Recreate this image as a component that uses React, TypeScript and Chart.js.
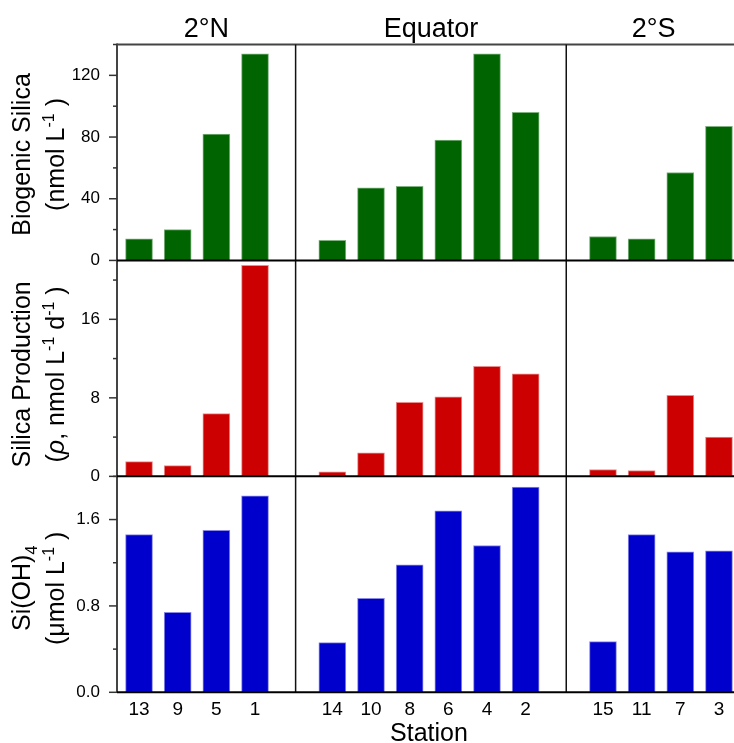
import { useEffect, useRef } from 'react';
import { Chart, registerables } from 'chart.js';

Chart.register(...registerables);

// ---------- data ----------
const columnTitles = ['2°N', 'Equator', '2°S'];

const stations2N = ['13', '9', '5', '1'];
const stationsEq = ['14', '10', '8', '6', '4', '2'];
const stations2S = ['15', '11', '7', '3'];

const biogenicSilica2N = [14, 20, 82, 134];
const biogenicSilicaEq = [13, 47, 48, 78, 134, 96];
const biogenicSilica2S = [15.5, 14, 57, 87];

const silicaProduction2N = [1.5, 1.1, 6.4, 21.5];
const silicaProductionEq = [0.45, 2.4, 7.55, 8.1, 11.2, 10.45];
const silicaProduction2S = [0.7, 0.6, 8.25, 4.0];

const silicate2N = [1.46, 0.74, 1.5, 1.82];
const silicateEq = [0.46, 0.87, 1.18, 1.68, 1.36, 1.9];
const silicate2S = [0.47, 1.46, 1.3, 1.31];

const bsiTickValues = [0, 20, 40, 60, 80, 100, 120, 140];
const bsiTickLabels = [0, 40, 80, 120];
const prodTickValues = [0, 4, 8, 12, 16, 20];
const prodTickLabels = [0, 8, 16];
const siTickValues = [0, 0.4, 0.8, 1.2, 1.6, 2.0];
const siTickLabels = [0, 0.8, 1.6];

// ---------- layout / style ----------
const FONT = '"Liberation Sans", Arial, Helvetica, sans-serif';
const GREEN = '#006400';
const RED = '#cc0000';
const BLUE = '#0000cc';
const X_MIN = -0.57;
const X_MAX = 15.57;
const DIVIDER_AFTER_LAST = 1.05; // slot units after the last bar of a column
const CANVAS_W = 750;
const CANVAS_H = 743;

const stationGroups = [stations2N, stationsEq, stations2S];

// slot index of each station: groups separated by one empty slot
const groupIndices: number[][] = [];
{
  let pos = 0;
  stationGroups.forEach((g) => {
    groupIndices.push(g.map((_, i) => pos + i));
    pos += g.length + 1;
  });
}
const stationLabelAt: Record<number, string> = {};
stationGroups.forEach((g, gi) => g.forEach((s, i) => (stationLabelAt[groupIndices[gi][i]] = s)));
const allIndices = groupIndices.flat();

const toPoints = (groups: number[][]) =>
  groups.flatMap((vals, gi) => vals.map((v, i) => ({ x: groupIndices[gi][i], y: v })));

const dividers = groupIndices.slice(0, -1).map((g) => g[g.length - 1] + DIVIDER_AFTER_LAST);

type Seg = { t: string; sup?: boolean; sub?: boolean; italic?: boolean };

const rowTitles: Seg[][][] = [
  [[{ t: 'Biogenic Silica' }], [{ t: '(nmol L' }, { t: '-1', sup: true }, { t: ' )' }]],
  [
    [{ t: 'Silica Production' }],
    [
      { t: '(' },
      { t: 'ρ', italic: true },
      { t: ', nmol L' },
      { t: '-1', sup: true },
      { t: ' d' },
      { t: '-1', sup: true },
      { t: ' )' },
    ],
  ],
  [[{ t: 'Si(OH)' }, { t: '4', sub: true }], [{ t: '(μmol L' }, { t: '-1', sup: true }, { t: ' )' }]],
];
const rowTitleShift = [2, 6, 4];

function drawRich(ctx: CanvasRenderingContext2D, segs: Seg[], size: number, cx: number, cy: number) {
  const small = Math.round(size * 0.64);
  const fontFor = (s: Seg) => `${s.italic ? 'italic ' : ''}${s.sup || s.sub ? small : size}px ${FONT}`;
  let total = 0;
  const widths = segs.map((s) => {
    ctx.font = fontFor(s);
    const w = ctx.measureText(s.t).width;
    total += w;
    return w;
  });
  let xp = cx - total / 2;
  ctx.textAlign = 'left';
  ctx.textBaseline = 'alphabetic';
  segs.forEach((s, i) => {
    ctx.font = fontFor(s);
    const dy = s.sup ? -size * 0.42 : s.sub ? size * 0.28 : 0;
    ctx.fillText(s.t, xp, cy + dy);
    xp += widths[i];
  });
}

const overlay = {
  id: 'overlay',
  afterDraw(chart: any) {
    const { ctx, chartArea: a, scales } = chart;
    const xs = scales.x;
    const rows = [scales.yTop, scales.yMid, scales.yBot];
    const majors = [bsiTickLabels, prodTickLabels, siTickLabels];
    const line = (x1: number, y1: number, x2: number, y2: number, c: string, w: number) => {
      ctx.beginPath();
      ctx.strokeStyle = c;
      ctx.lineWidth = w;
      ctx.moveTo(x1, y1);
      ctx.lineTo(x2, y2);
      ctx.stroke();
    };
    ctx.save();
    // frame
    line(a.left, a.top, a.right + 2, a.top, '#444', 2);
    line(a.left, a.top - 1, a.left, a.bottom, '#444', 2);
    dividers.forEach((v) => {
      const px = xs.getPixelForValue(v);
      line(px, a.top, px, a.bottom, '#111', 1.5);
    });
    rows.forEach((s: any) => {
      const y = s.getPixelForValue(0);
      line(a.left, y, a.right + 2, y, '#000', 2);
    });
    // y tick marks
    rows.forEach((s: any, ri: number) => {
      s.ticks.forEach((t: any) => {
        const y = s.getPixelForValue(t.value);
        const major = majors[ri].some((m) => Math.abs(m - t.value) < 1e-9);
        line(a.left - (major ? 8 : 4), y, a.left, y, '#333', 1.5);
      });
    });
    ctx.fillStyle = '#000';
    // column titles
    const bounds = [xs.getPixelForValue(X_MIN), ...dividers.map((d) => xs.getPixelForValue(d)), xs.getPixelForValue(X_MAX)];
    ctx.font = `27px ${FONT}`;
    ctx.textAlign = 'center';
    ctx.textBaseline = 'alphabetic';
    columnTitles.forEach((t, i) => {
      ctx.fillText(t, (bounds[i] + bounds[i + 1]) / 2, 37);
    });
    // x title
    ctx.font = `25px ${FONT}`;
    ctx.fillText('Station', (a.left + a.right) / 2, 741);
    // row titles
    rows.forEach((s: any, ri: number) => {
      const cy = (s.getPixelForValue(s.min) + s.getPixelForValue(s.max)) / 2 + rowTitleShift[ri];
      const baselines = [30, 64];
      rowTitles[ri].forEach((segs, li) => {
        ctx.save();
        ctx.translate(baselines[li], cy);
        ctx.rotate(-Math.PI / 2);
        drawRich(ctx, segs, 25, 0, 0);
        ctx.restore();
      });
    });
    ctx.restore();
  },
};

const yScale = (min: number, max: number, tickValues: number[], labels: number[], digits: number) => ({
  type: 'linear' as const,
  position: 'left' as const,
  stack: 'rows',
  stackWeight: 1,
  min,
  max,
  bounds: 'data' as const,
  offset: false,
  grid: { display: false, drawTicks: false },
  border: { display: false },
  afterBuildTicks: (s: any) => {
    s.ticks = tickValues.map((v) => ({ value: v }));
  },
  afterFit: (s: any) => {
    s.width = 117;
  },
  ticks: {
    autoSkip: false,
    padding: 17,
    color: '#000',
    font: { family: FONT, size: 17 },
    callback: (v: any) => (labels.some((m) => Math.abs(m - v) < 1e-9) ? Number(v).toFixed(digits) : ''),
  },
});

export default function App() {
  const ref = useRef<HTMLCanvasElement>(null);
  useEffect(() => {
    if (!ref.current) return;
    const barStyle = { barThickness: 27, grouped: false, borderWidth: 1 };
    const chart = new Chart(ref.current, {
      type: 'bar',
      data: {
        datasets: [
          {
            label: 'Si(OH)4',
            data: toPoints([silicate2N, silicateEq, silicate2S]),
            yAxisID: 'yBot',
            backgroundColor: BLUE,
            borderColor: '#8a8ae6',
            ...barStyle,
          },
          {
            label: 'Silica Production',
            data: toPoints([silicaProduction2N, silicaProductionEq, silicaProduction2S]),
            yAxisID: 'yMid',
            backgroundColor: RED,
            borderColor: '#ea8c8c',
            ...barStyle,
          },
          {
            label: 'Biogenic Silica',
            data: toPoints([biogenicSilica2N, biogenicSilicaEq, biogenicSilica2S]),
            yAxisID: 'yTop',
            backgroundColor: GREEN,
            borderColor: '#7fb27f',
            ...barStyle,
          },
        ] as any,
      },
      options: {
        responsive: false,
        animation: false,
        layout: { padding: { left: 0, top: 44.5, right: CANVAS_W - 741, bottom: 0 } },
        plugins: { legend: { display: false }, tooltip: { enabled: false } },
        scales: {
          x: {
            type: 'linear',
            min: X_MIN,
            max: X_MAX,
            bounds: 'data',
            offset: false,
            grid: { display: false, drawTicks: false, offset: false },
            border: { display: false },
            afterBuildTicks: (s: any) => {
              s.ticks = allIndices.map((v) => ({ value: v }));
            },
            afterFit: (s: any) => {
              s.height = CANVAS_H - 692.3;
            },
            ticks: {
              autoSkip: false,
              maxRotation: 0,
              padding: 6,
              color: '#000',
              font: { family: FONT, size: 19 },
              callback: (v: any) => stationLabelAt[Math.round(Number(v))] ?? '',
            },
          },
          yBot: yScale(0, 2.0, siTickValues, siTickLabels, 1),
          yMid: yScale(0, 22, prodTickValues, prodTickLabels, 0),
          yTop: yScale(0, 140, bsiTickValues, bsiTickLabels, 0),
        } as any,
      },
      plugins: [overlay],
    });
    return () => chart.destroy();
  }, []);
  return (
    <div
      style={{
        position: 'absolute',
        left: 0,
        top: 0,
        width: 734,
        height: 743,
        overflow: 'hidden',
        background: '#fff',
      }}
    >
      <canvas ref={ref} width={CANVAS_W} height={CANVAS_H} style={{ display: 'block' }} />
    </div>
  );
}
